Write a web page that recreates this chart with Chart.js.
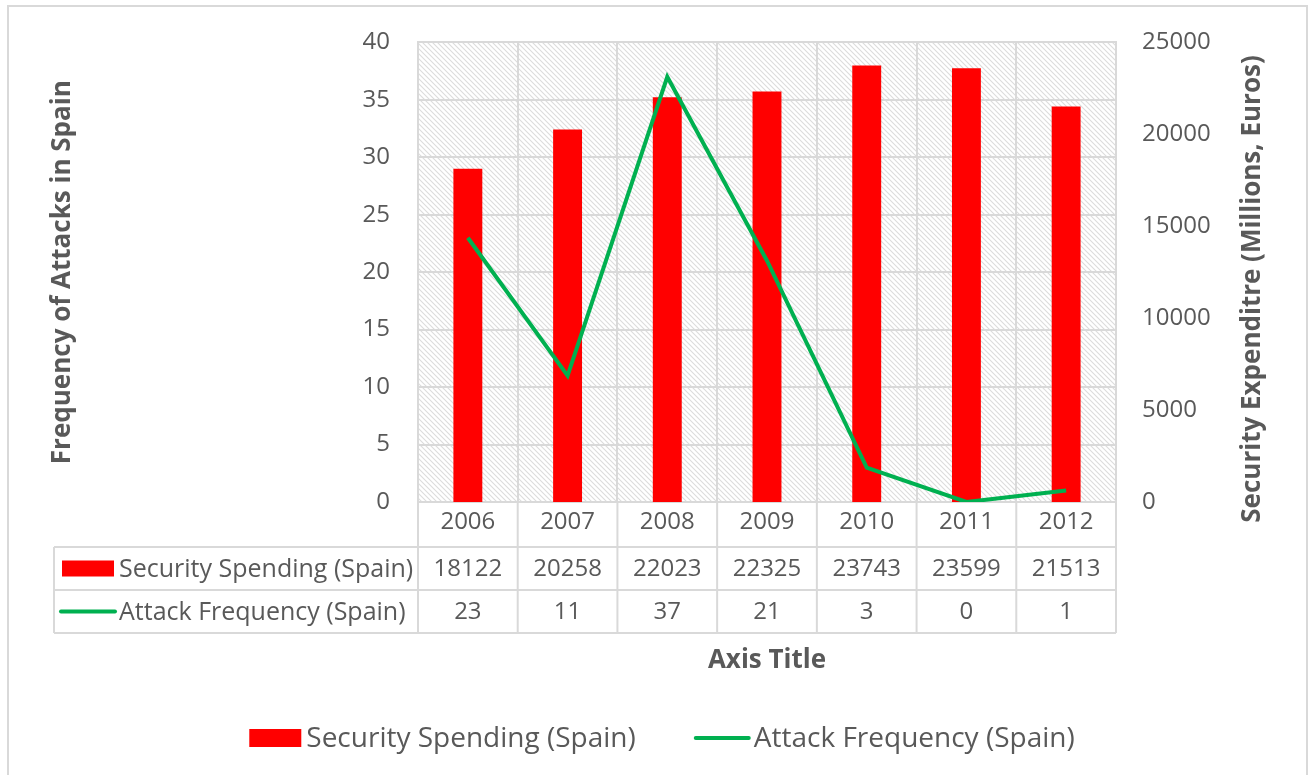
<!DOCTYPE html>
<html>
<head>
<meta charset="utf-8">
<script src="https://cdn.jsdelivr.net/npm/chart.js@4.4.1/dist/chart.umd.min.js"></script>
<style>
  html, body { margin: 0; padding: 0; background: #fff; }
  #wrap { width: 1315px; height: 775px; }
</style>
</head>
<body>
<div id="wrap"><canvas id="chart" width="1315" height="775"></canvas></div>
<script>
const years = ['2006', '2007', '2008', '2009', '2010', '2011', '2012'];
const spending = [18122, 20258, 22023, 22325, 23743, 23599, 21513];
const attacks = [23, 11, 37, 21, 3, 0, 1];
const leftTicks = [0, 5, 10, 15, 20, 25, 30, 35, 40];
const rightTicks = [0, 5000, 10000, 15000, 20000, 25000];
const spendingLabel = 'Security Spending (Spain)';
const attacksLabel = 'Attack Frequency (Spain)';
const rightTitle = 'Security Expenditre (Millions, Euros)';

const textColor = '#595959';
const gridColor = '#d9d9d9';
const barColor = '#ff0000';
const lineColor = '#00b050';
const fontFamily = '"Open Sans", sans-serif';

// diagonal hatch for the plot background
function makeHatch() {
    const c = document.createElement('canvas');
    c.width = 5;
    c.height = 5;
    const g = c.getContext('2d');
    g.fillStyle = '#fff';
    g.fillRect(0, 0, 5, 5);
    g.strokeStyle = '#dcdcdc';
    g.lineWidth = 1.1;
    g.beginPath();
    g.moveTo(-1, -1); g.lineTo(6, 6);
    g.moveTo(-1, 4); g.lineTo(1, 6);
    g.moveTo(4, -1); g.lineTo(6, 1);
    g.stroke();
    return c;
}

const backgroundPlugin = {
    id: 'hatchBackground',
    beforeDraw(chart) {
        const { ctx, chartArea } = chart;
        ctx.save();
        ctx.strokeStyle = gridColor;
        ctx.lineWidth = 2;
        ctx.strokeRect(8, 6, 1299, 780);
        ctx.fillStyle = ctx.createPattern(makeHatch(), 'repeat');
        ctx.fillRect(chartArea.left, chartArea.top, chartArea.right - chartArea.left, chartArea.bottom - chartArea.top);
        ctx.restore();
    }
};

// data table under the x axis, right axis title and the bottom legend
const tablePlugin = {
    id: 'dataTable',
    afterDraw(chart) {
        const { ctx, chartArea, scales } = chart;
        const x = scales.x;
        const half = (x.getPixelForValue(1) - x.getPixelForValue(0)) / 2;
        const top = chartArea.bottom;
        const r1 = top + 45, r2 = top + 88, r3 = top + 131;
        const tableLeft = 54;

        ctx.save();
        ctx.strokeStyle = gridColor;
        ctx.lineWidth = 2;
        ctx.beginPath();
        [r1, r2, r3].forEach(y => {
            ctx.moveTo(tableLeft, y);
            ctx.lineTo(chartArea.right, y);
        });
        ctx.moveTo(tableLeft, r1);
        ctx.lineTo(tableLeft, r3);
        for (let i = 0; i <= years.length; i++) {
            const px = x.getPixelForValue(0) - half + i * half * 2;
            ctx.moveTo(px, top);
            ctx.lineTo(px, r3);
        }
        ctx.stroke();

        ctx.font = '24px ' + fontFamily;
        ctx.fillStyle = textColor;
        ctx.textAlign = 'center';
        ctx.textBaseline = 'middle';
        years.forEach((yr, i) => {
            const px = x.getPixelForValue(i);
            ctx.fillText(String(spending[i]), px, (r1 + r2) / 2 + 1);
            ctx.fillText(String(attacks[i]), px, (r2 + r3) / 2 + 1);
        });

        // right axis title, reading bottom to top
        ctx.save();
        ctx.translate(1253, 289);
        ctx.rotate(-Math.PI / 2);
        ctx.font = 'bold 26px ' + fontFamily;
        ctx.fillText(rightTitle, 0, 0);
        ctx.restore();

        // series keys in the table
        ctx.textAlign = 'left';
        ctx.fillStyle = barColor;
        ctx.fillRect(62, (r1 + r2) / 2 - 8, 52, 16);
        ctx.strokeStyle = lineColor;
        ctx.lineWidth = 4;
        ctx.lineCap = 'round';
        ctx.beginPath();
        ctx.moveTo(61, (r2 + r3) / 2);
        ctx.lineTo(115, (r2 + r3) / 2);
        ctx.stroke();
        ctx.font = '25px ' + fontFamily;
        ctx.fillStyle = textColor;
        ctx.fillText(spendingLabel, 119, (r1 + r2) / 2 + 1);
        ctx.fillText(attacksLabel, 119, (r2 + r3) / 2 + 1);

        // legend
        ctx.font = '28px ' + fontFamily;
        const w1 = ctx.measureText(spendingLabel).width;
        const w2 = ctx.measureText(attacksLabel).width;
        const total = 52 + 5 + w1 + 59 + 55 + 4 + w2;
        const ly = 738;
        let lx = 662 - total / 2;
        ctx.fillStyle = barColor;
        ctx.fillRect(lx, ly - 9, 52, 18);
        lx += 57;
        ctx.fillStyle = textColor;
        ctx.fillText(spendingLabel, lx, ly + 1);
        lx += w1 + 59;
        ctx.beginPath();
        ctx.moveTo(lx + 1, ly);
        ctx.lineTo(lx + 54, ly);
        ctx.stroke();
        lx += 59;
        ctx.fillText(attacksLabel, lx, ly + 1);
        ctx.restore();
    }
};

const titleFont = { family: fontFamily, size: 26, weight: 'bold' };
const tickFont = { family: fontFamily, size: 24 };

const chart = new Chart(document.getElementById('chart'), {
    data: {
        labels: years,
        datasets: [
            {
                type: 'line',
                label: attacksLabel,
                data: attacks,
                yAxisID: 'y',
                borderColor: lineColor,
                backgroundColor: lineColor,
                borderWidth: 4,
                pointRadius: 0,
                tension: 0,
                order: 0
            },
            {
                type: 'bar',
                label: spendingLabel,
                data: spending,
                yAxisID: 'y1',
                backgroundColor: barColor,
                barPercentage: 0.29,
                categoryPercentage: 1,
                order: 1
            }
        ]
    },
    options: {
        responsive: false,
        animation: false,
        layout: {
            padding: { left: 10, right: 10, top: 40, bottom: 59 }
        },
        scales: {
            x: {
                grid: { color: gridColor, lineWidth: 2, drawTicks: false, offset: true },
                border: { color: gridColor, width: 2 },
                ticks: {
                    color: textColor,
                    font: tickFont,
                    padding: 6,
                    maxRotation: 0
                },
                title: {
                    display: true,
                    text: 'Axis Title',
                    color: textColor,
                    font: titleFont,
                    padding: { top: 0, bottom: 40 }
                },
                afterFit(scale) { scale.height = 214; }
            },
            y: {
                position: 'left',
                min: 0,
                max: 40,
                afterBuildTicks(scale) { scale.ticks = leftTicks.map(v => ({ value: v })); },
                grid: { color: gridColor, lineWidth: 2, drawTicks: false },
                border: { color: gridColor, width: 2 },
                ticks: {
                    color: textColor,
                    font: tickFont,
                    padding: 28
                },
                title: {
                    display: true,
                    text: 'Frequency of Attacks in Spain',
                    color: textColor,
                    font: titleFont,
                    padding: { top: 37, bottom: 0 }
                },
                afterFit(scale) { scale.width = 408; }
            },
            y1: {
                position: 'right',
                min: 0,
                max: 25000,
                afterBuildTicks(scale) { scale.ticks = rightTicks.map(v => ({ value: v })); },
                grid: { display: false, drawTicks: false },
                border: { color: gridColor, width: 2 },
                ticks: {
                    color: textColor,
                    font: tickFont,
                    padding: 26,
                    callback: v => String(v)
                },
                afterFit(scale) { scale.width = 189; }
            }
        },
        plugins: {
            legend: { display: false },
            tooltip: { enabled: false }
        }
    },
    plugins: [backgroundPlugin, tablePlugin]
});
</script>
</body>
</html>
